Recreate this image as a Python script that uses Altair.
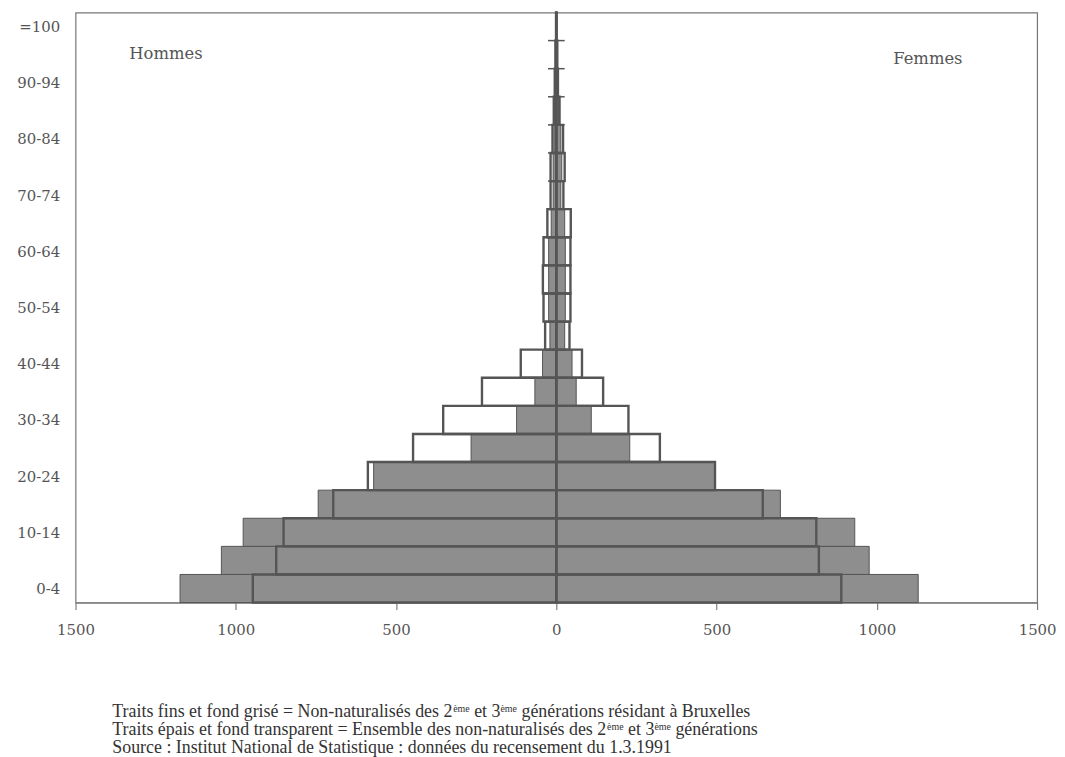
import json
import altair as alt
import pandas as pd

# ---------------- data ----------------
ages = ["0-4", "5-9", "10-14", "15-19", "20-24", "25-29", "30-34", "35-39", "40-44", "45-49",
        "50-54", "55-59", "60-64", "65-69", "70-74", "75-79", "80-84", "85-89", "90-94", "95-99", "=100"]
# grey fill, thin lines
hommes_bruxelles = [1174, 1045, 977, 743, 570, 266, 124, 67, 43, 20, 24, 24, 24, 16, 10, 10, 7, 5, 3, 2, 1]
femmes_bruxelles = [1129, 976, 931, 699, 495, 229, 109, 62, 49, 26, 28, 28, 28, 26, 14, 17, 14, 7, 4, 2, 1]
# thick lines, transparent fill
hommes_ensemble = [947, 874, 851, 696, 588, 447, 353, 232, 111, 35, 40, 42, 40, 28, 18, 18, 12, 8, 5, 3, 1]
femmes_ensemble = [889, 819, 811, 644, 495, 323, 225, 146, 80, 41, 44, 44, 44, 45, 22, 26, 21, 10, 5, 3, 1]
x_tick_values = [-1500, -1000, -500, 0, 500, 1000, 1500]
tick_half = 26

footnotes = [
    [("Traits fins et fond grisé = Non-naturalisés des 2", False), ("ème", True), (" et 3", False),
     ("ème", True), (" générations résidant à Bruxelles", False)],
    [("Traits épais et fond transparent = Ensemble des non-naturalisés des 2", False), ("ème", True),
     (" et 3", False), ("ème", True), (" générations", False)],
    [("Source : Institut National de Statistique : données du recensement du 1.3.1991", False)],
]

# ---------------- layout ----------------
W, H = 968, 594
GREY = "#8e8e8e"
LINE = "#555555"
TXT = "#555555"
LABEL_FONT = "DejaVu Serif"
NOTE_FONT = "Liberation Serif"

n = len(ages)
rows = []
for i, age in enumerate(ages):
    for sexe, sign, bx, en in [("Hommes", -1, hommes_bruxelles, hommes_ensemble),
                               ("Femmes", 1, femmes_bruxelles, femmes_ensemble)]:
        rows.append({"age": age, "lo": i, "hi": i + 1, "sexe": sexe, "serie": "Bruxelles",
                     "v": sign * bx[i], "zero": 0})
        rows.append({"age": age, "lo": i, "hi": i + 1, "sexe": sexe, "serie": "Ensemble",
                     "v": sign * en[i], "zero": 0})
df = pd.DataFrame(rows)

xscale = alt.Scale(domain=[-1500, 1500], nice=False, zero=False)
yscale = alt.Scale(domain=[0, n], nice=False, zero=False)

label_expr = json.dumps(ages) + "[floor(datum.value)]"

x_axis = alt.Axis(values=x_tick_values, labelExpr="abs(datum.value)", title=None, grid=False,
                  tickSize=7, tickColor="#666", domainColor="#777", labelFont=LABEL_FONT,
                  labelFontSize=15, labelColor=TXT, labelPadding=13, labelFlush=False)
y_axis = alt.Axis(values=[i + 0.5 for i in range(0, n, 2)], labelExpr=label_expr, title=None,
                  grid=False, ticks=False, domain=False, labelFont=LABEL_FONT, labelFontSize=15,
                  labelColor=TXT, labelPadding=16)

grey = alt.Chart(df).transform_filter(alt.datum.serie == "Bruxelles").mark_rect(
    fill=GREY, stroke=LINE, strokeWidth=1
).encode(
    x=alt.X("v:Q", scale=xscale, axis=x_axis), x2="zero:Q",
    y=alt.Y("lo:Q", scale=yscale, axis=y_axis), y2="hi:Q",
)

outline = alt.Chart(df).transform_filter(alt.datum.serie == "Ensemble").mark_rect(
    fill="transparent", stroke=LINE, strokeWidth=2.4
).encode(
    x=alt.X("v:Q", scale=xscale, axis=x_axis), x2="zero:Q",
    y=alt.Y("lo:Q", scale=yscale, axis=y_axis), y2="hi:Q",
)

ticks_df = pd.DataFrame({"b": list(range(1, n)), "l": -tick_half, "r": tick_half})
ticks = alt.Chart(ticks_df).mark_rule(color=LINE, strokeWidth=1.5).encode(
    x=alt.X("l:Q", scale=xscale, axis=x_axis), x2="r:Q",
    y=alt.Y("b:Q", scale=yscale, axis=y_axis),
)

center_df = pd.DataFrame({"x": [0], "lo": [0], "hi": [n]})
center = alt.Chart(center_df).mark_rule(color=LINE, strokeWidth=2).encode(
    x=alt.X("x:Q", scale=xscale, axis=x_axis),
    y=alt.Y("lo:Q", scale=yscale, axis=y_axis), y2="hi:Q",
)

sex_labels = alt.Chart(pd.DataFrame({"t": ["Hommes"]})).mark_text(
    font=LABEL_FONT, fontSize=16.5, color=TXT, align="center", baseline="middle"
).encode(x=alt.value(91), y=alt.value(42), text="t:N")
sex_labels2 = alt.Chart(pd.DataFrame({"t": ["Femmes"]})).mark_text(
    font=LABEL_FONT, fontSize=16.5, color=TXT, align="center", baseline="middle"
).encode(x=alt.value(858), y=alt.value(47), text="t:N")

# Times / Liberation Serif advance widths (per 1000 em)
TIMES = {" ": 250, "-": 333, "=": 564, ":": 278, ".": 250,
         "0": 500, "1": 500, "2": 500, "3": 500, "9": 500,
         "a": 444, "b": 500, "c": 444, "d": 500, "e": 444, "f": 333, "g": 500, "h": 500,
         "i": 278, "j": 278, "k": 500, "l": 278, "m": 778, "n": 500, "o": 500, "p": 500,
         "q": 500, "r": 333, "s": 389, "t": 278, "u": 500, "v": 500, "w": 722, "x": 500,
         "y": 500, "z": 444, "B": 667, "E": 611, "I": 333, "N": 722, "S": 556, "T": 611,
         "é": 444, "è": 444, "à": 444}


def tw(s, fs):
    return sum(TIMES.get(c, 500) for c in s) * fs / 1000.0


NOTE_FS = 18
SUP_FS = 10
note_x0 = 37
note_base = [709.5, 727.5, 745.5]
seg_rows = []
for li, segs in enumerate(footnotes):
    xpos = note_x0
    for txt, sup in segs:
        fs = SUP_FS if sup else NOTE_FS
        lead = len(txt) - len(txt.lstrip(" "))
        xstart = xpos + tw(" " * lead, fs)
        seg_rows.append({"t": txt.strip(" "), "x": xstart,
                         "y": note_base[li] - (5 if sup else 0), "fs": fs})
        xpos += tw(txt, fs)

note_layers = []
for r in seg_rows:
    note_layers.append(
        alt.Chart(pd.DataFrame({"t": [r["t"]]})).mark_text(
            font=NOTE_FONT, fontSize=r["fs"], color="#333333", align="left",
            baseline="alphabetic"
        ).encode(x=alt.value(r["x"]), y=alt.value(r["y"]), text="t:N")
    )

chart = alt.layer(ticks, grey, outline, center, sex_labels, sex_labels2, *note_layers).properties(
    width=W, height=H,
    autosize=alt.AutoSizeParams(type="none"),
    padding={"left": 68, "top": 2, "right": 20, "bottom": 160},
    background="white",
).configure_view(stroke="#777777", strokeWidth=1.2)

chart.save("out.html", embed_options={"renderer": "svg", "actions": False})
